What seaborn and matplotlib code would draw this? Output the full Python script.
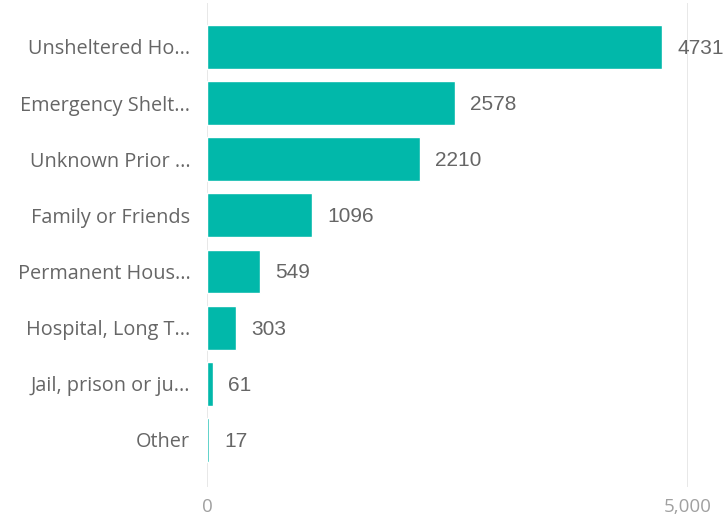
import matplotlib
matplotlib.use("Agg")
import matplotlib.pyplot as plt
import seaborn as sns
import pandas as pd

# chart data
categories = ["Unsheltered Ho...", "Emergency Shelt...", "Unknown Prior ...",
              "Family or Friends", "Permanent Hous...", "Hospital, Long T...",
              "Jail, prison or ju...", "Other"]
counts = [4731, 2578, 2210, 1096, 549, 303, 61, 17]
x_ticks = [0, 5000]
x_tick_labels = ["0", "5,000"]

df = pd.DataFrame({"Category": categories, "Count": counts})

sns.set_style("white")
plt.rcParams['font.family'] = ['Open Sans', 'DejaVu Sans']

fig = plt.figure(figsize=(7.25, 5.21), dpi=100)
ax = fig.add_axes([0.2855, 0.065, 0.949 - 0.2855, 0.929])

sns.barplot(data=df, x="Count", y="Category", color="#01B8AA", width=0.78,
            saturation=1, ax=ax, zorder=3)

ax.set_xlim(0, 5000)
ax.set_ylim(7.84, -0.78)
ax.set_xticks(x_ticks)
ax.set_xticklabels(x_tick_labels, color="#a0a0a0", fontsize=13.5)
ax.set_xlabel("")
ax.set_ylabel("")
ax.tick_params(axis="y", labelsize=14.3, labelcolor="#666666", length=0, pad=12)
ax.tick_params(axis="x", length=0, pad=8)
for s in ax.spines.values():
    s.set_visible(False)
for xv in x_ticks:
    ax.axvline(xv, color="#e6e6e6", lw=1.3, zorder=1)

# value labels next to the bars
for i, v in enumerate(counts):
    ax.annotate(str(v), xy=(v, i), xytext=(11, -1), textcoords="offset points",
                va="center", ha="left", fontsize=15, color="#666666",
                family="Liberation Sans", annotation_clip=False)

plt.savefig("out.png", dpi=100)
